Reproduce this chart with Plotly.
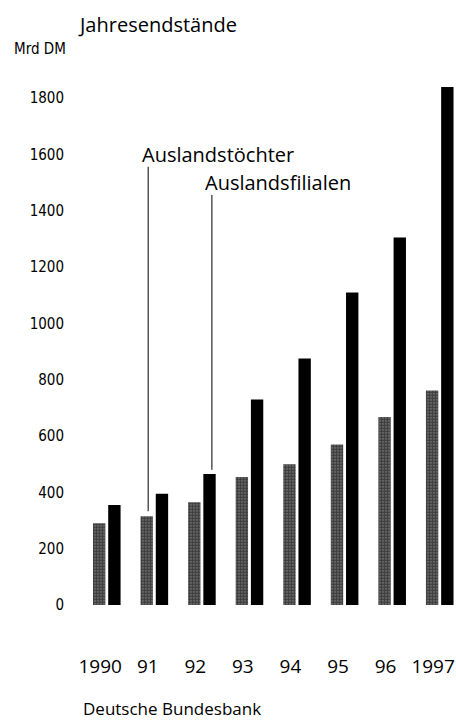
import plotly.graph_objects as go

years = ["1990", "91", "92", "93", "94", "95", "96", "1997"]
toechter = [290, 315, 365, 455, 500, 570, 668, 762]
filialen = [355, 395, 465, 730, 875, 1110, 1305, 1840]
y_ticks = [0, 200, 400, 600, 800, 1000, 1200, 1400, 1600, 1800]

idx = list(range(len(years)))
BW = 0.26
OFF_G = -0.29
OFF_B = 0.03

fig = go.Figure()
fig.add_trace(go.Bar(
    x=idx, y=toechter, width=BW, offset=OFF_G,
    marker=dict(color="#444444", line=dict(width=0),
                pattern=dict(shape=".", fgcolor="#000000", bgcolor="#7a7a7a", size=3, solidity=0.7)),
    name="Auslandstöchter", showlegend=False))
fig.add_trace(go.Bar(
    x=idx, y=filialen, width=BW, offset=OFF_B,
    marker=dict(color="#000000", line=dict(width=0)),
    name="Auslandsfilialen", showlegend=False))

main_font = "Open Sans, Noto Sans, sans-serif"
narrow_font = "DejaVu Sans Condensed, Liberation Sans, sans-serif"

# leader lines
x1 = idx[1] + OFF_G + BW / 2 + 0.03
x2 = idx[2] + OFF_B + BW / 2 + 0.05
fig.add_shape(type="line", x0=x1, x1=x1, y0=toechter[1] + 18, y1=1556,
              line=dict(color="black", width=1))
fig.add_shape(type="line", x0=x2, x1=x2, y0=filialen[2] + 15, y1=1456,
              line=dict(color="black", width=1))
fig.add_annotation(x=x1, y=1556, text="Auslandstöchter", showarrow=False,
                   xanchor="left", yanchor="bottom", xshift=-8, yshift=-3,
                   font=dict(family=main_font, size=20, color="black"))
fig.add_annotation(x=x2, y=1456, text="Auslandsfilialen", showarrow=False,
                   xanchor="left", yanchor="bottom", xshift=-9, yshift=-3,
                   font=dict(family=main_font, size=20, color="black"))

fig.update_layout(
    width=456, height=728,
    margin=dict(l=83, r=2, t=70, b=123),
    paper_bgcolor="white", plot_bgcolor="white",
    barmode="overlay",
    xaxis=dict(range=[-0.5, 7.3], tickvals=[i + OFF_G + BW / 2 for i in idx], ticktext=years,
               showgrid=False, zeroline=False, showline=False, ticks="",
               ticklabelstandoff=48, ticklabelshift=1, automargin=False,
               tickfont=dict(family=main_font, size=19, color="black")),
    yaxis=dict(range=[0, 1900], tickvals=y_ticks, ticktext=[str(v) for v in y_ticks],
               showgrid=False, zeroline=False, showline=False, ticks="",
               ticklabelstandoff=18, automargin=False,
               tickfont=dict(family=narrow_font, size=15, color="black")),
)

fig.add_annotation(xref="paper", yref="paper", x=-7/371, y=1 + 46/535,
                   text="Jahresendstände", showarrow=False, xanchor="left", yanchor="middle",
                   font=dict(family=main_font, size=20, color="black"))
fig.add_annotation(xref="paper", yref="paper", x=-71/371, y=1 + 21/535,
                   text="Mrd DM", showarrow=False, xanchor="left", yanchor="middle",
                   font=dict(family=narrow_font, size=15, color="black"))
fig.add_annotation(xref="paper", yref="paper", x=-2/371, y=-103/535,
                   text="Deutsche Bundesbank", showarrow=False, xanchor="left", yanchor="middle",
                   font=dict(family=main_font, size=17, color="black"))

fig.write_html("out.html", config={"displayModeBar": False},
               post_script="document.body.style.margin='0';")
